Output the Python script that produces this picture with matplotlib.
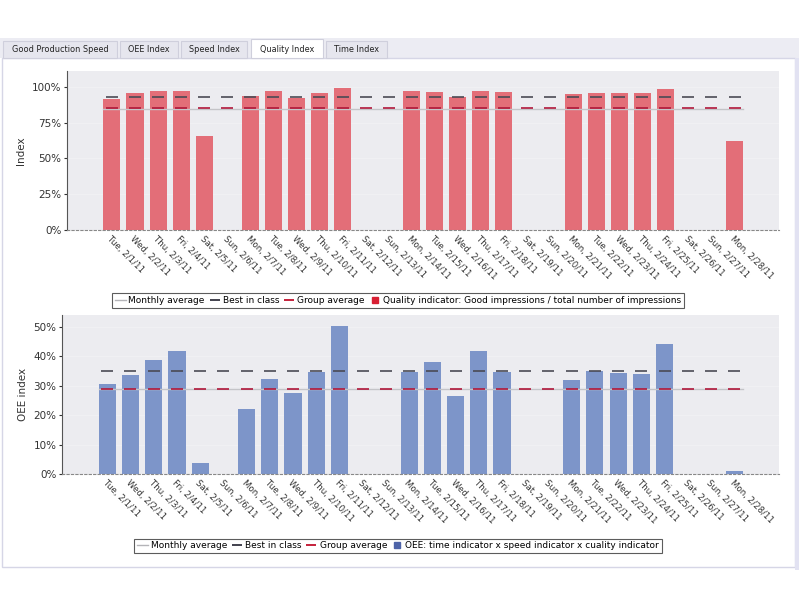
import numpy as np
import matplotlib
matplotlib.use("Agg")
import matplotlib.pyplot as plt
from matplotlib.patches import Rectangle
from matplotlib.lines import Line2D
from matplotlib.ticker import FuncFormatter

nan = np.nan

days = ["Tue, 2/1/11", "Wed, 2/2/11", "Thu, 2/3/11", "Fri, 2/4/11", "Sat, 2/5/11",
        "Sun, 2/6/11", "Mon, 2/7/11", "Tue, 2/8/11", "Wed, 2/9/11", "Thu, 2/10/11",
        "Fri, 2/11/11", "Sat, 2/12/11", "Sun, 2/13/11", "Mon, 2/14/11", "Tue, 2/15/11",
        "Wed, 2/16/11", "Thu, 2/17/11", "Fri, 2/18/11", "Sat, 2/19/11", "Sun, 2/20/11",
        "Mon, 2/21/11", "Tue, 2/22/11", "Wed, 2/23/11", "Thu, 2/24/11", "Fri, 2/25/11",
        "Sat, 2/26/11", "Sun, 2/27/11", "Mon, 2/28/11"]

quality = [91.2, 95.6, 96.8, 97.2, 65.8, nan, 93.4, 97.0, 91.9, 95.4,
           98.9, nan, nan, 97.0, 96.5, 92.6, 97.2, 96.3, nan, nan,
           94.6, 95.6, 95.8, 95.3, 98.4, nan, nan, 61.9]
quality_best = 92.8
quality_group = 84.9
quality_month = 84.5

oee = [30.4, 33.7, 38.8, 41.7, 3.6, nan, 22.0, 32.4, 27.5, 34.5,
       50.2, nan, nan, 34.6, 38.0, 26.5, 41.8, 34.6, nan, nan,
       32.0, 35.1, 34.2, 33.9, 44.0, nan, nan, 1.1]
oee_best = 35.1
oee_group = 29.0
oee_month = 29.0

tabs = ["Good Production Speed", "OEE Index", "Speed Index", "Quality Index", "Time Index"]

W, H = 799, 599
fig = plt.figure(figsize=(W / 100, H / 100), dpi=100)
fig.patch.set_facecolor("white")


def px(x0, y0, x1, y1):
    # pixel box -> figure fraction rect
    return (x0 / W, 1 - y1 / H, (x1 - x0) / W, (y1 - y0) / H)


def frect(x0, y0, x1, y1, **kw):
    l, b, w, h = px(x0, y0, x1, y1)
    fig.patches.append(Rectangle((l, b), w, h, transform=fig.transFigure, **kw))


# page chrome: tab bar and panel (kept below the axes)
frect(0, 38, 799, 58, facecolor="#ececf3", edgecolor="none", zorder=-3)
frect(2, 58, 795, 567, facecolor="white", edgecolor="#d6d6e6", lw=1, zorder=-3)
frect(795, 58, 799, 570, facecolor="#e2e2f2", edgecolor="none", zorder=-3)
tab_x = [(3, 117), (120, 178), (181, 247), (251, 323), (326, 387)]
for name, (a, b) in zip(tabs, tab_x):
    active = name == "Quality Index"
    frect(a, 41 if not active else 39, b, 58,
          facecolor="white" if active else "#e6e6ee", edgecolor="#cfcfdc", lw=0.8, zorder=-2)
    fig.text((a + b) / 2 / W, 1 - 49.5 / H, name, ha="center", va="center",
             fontsize=5.9, color="#222222")

x = np.arange(len(days))


def panel(rect, vals, best, group, month, color, key_color, ymax, yticks, ylabel,
          legend_label, leg_y):
    ax = fig.add_axes(px(*rect))
    ax.set_facecolor("#ececf0")
    ax.bar(x, vals, width=0.74, color=color, zorder=2)
    ax.plot([x[0] - 0.37, x[-1] + 0.37], [month, month], color="#c4c4c8", lw=1.0, zorder=3)
    ax.plot(x, [best] * len(x), ls="none", marker="_", ms=8, mew=1.2, color="#4a4a55", zorder=4)
    ax.plot(x, [group] * len(x), ls="none", marker="_", ms=8, mew=1.2, color="#b0173a", zorder=4)
    ax.set_xlim(-1.95, 28.93)
    ax.set_ylim(0, ymax)
    ax.set_yticks(yticks)
    ax.yaxis.set_major_formatter(FuncFormatter(lambda v, p: "%d%%" % v))
    ax.grid(axis="y", color="#f1f1f4", lw=0.7, zorder=1)
    ax.set_axisbelow(True)
    ax.set_xticks(x)
    ax.set_xticklabels(days, rotation=-45, ha="left", rotation_mode="anchor",
                       fontsize=6.2, color="#333333")
    ax.tick_params(axis="x", length=0, pad=3)
    ax.tick_params(axis="y", labelsize=7.5, colors="#333333", length=2, pad=2)
    ax.set_ylabel(ylabel, fontsize=7.5, color="#333333", labelpad=4)
    for s in ["top", "right"]:
        ax.spines[s].set_visible(False)
    ax.spines["left"].set_color("#555555")
    ax.spines["bottom"].set_color("#888888")
    ax.spines["bottom"].set_linestyle((0, (2, 2)))
    ax.spines["bottom"].set_linewidth(0.8)
    handles = [Line2D([], [], color="#b4b4b8", lw=1.0),
               Line2D([], [], ls="none", marker="_", ms=7, mew=1.3, color="#333340"),
               Line2D([], [], ls="none", marker="_", ms=7, mew=1.3, color="#c0102c"),
               Line2D([], [], ls="none", marker="s", ms=5, color=key_color)]
    leg = fig.legend(handles, ["Monthly average", "Best in class", "Group average", legend_label],
                     loc="center", bbox_to_anchor=(0.498, leg_y), ncol=4, fontsize=6.5,
                     frameon=True, fancybox=False, borderpad=0.3, handlelength=1.2,
                     handletextpad=0.3, columnspacing=0.5)
    leg.get_frame().set_edgecolor("#333333")
    leg.get_frame().set_linewidth(0.8)
    return ax


panel((67, 71, 779, 230), quality, quality_best, quality_group, quality_month,
      "#e36e78", "#d81f33", 111, [0, 25, 50, 75, 100], "Index",
      "Quality indicator: Good impressions / total number of impressions", 1 - 300.5 / H)
panel((62, 315, 779, 474), oee, oee_best, oee_group, oee_month,
      "#7d95c9", "#4d63a8", 54, [0, 10, 20, 30, 40, 50], "OEE index",
      "OEE: time indicator x speed indicator x cuality indicator", 1 - 546 / H)

fig.savefig("out.png", dpi=100)
